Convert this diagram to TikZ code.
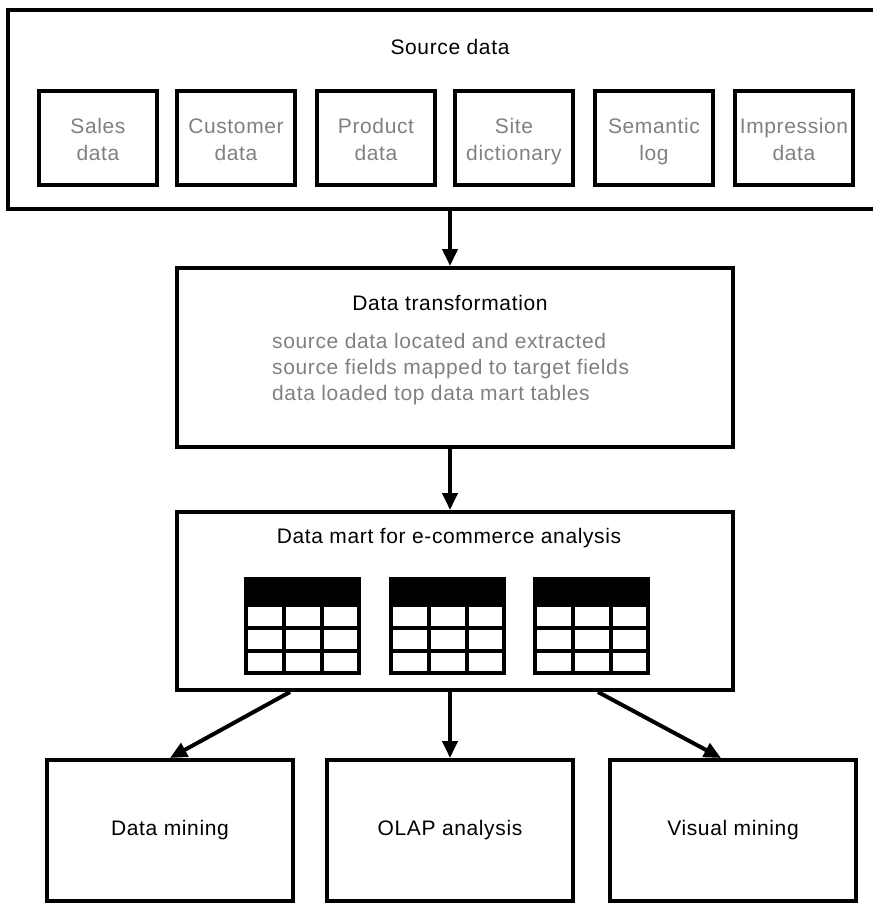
\documentclass[tikz,border=0pt]{standalone}
\usepackage{fontspec}
\setmainfont{Liberation Sans}[LetterSpace=3]
\usetikzlibrary{arrows.meta}
\definecolor{labelgray}{RGB}{128,128,128}
\tikzset{
  box/.style={draw, line width=4pt, rectangle, inner sep=0pt},
  heading/.style={font=\fontsize{21pt}{26pt}\selectfont, inner sep=0pt},
  srclabel/.style={font=\fontsize{21pt}{27pt}\selectfont, text=labelgray, align=center, inner sep=0pt},
  arr/.style={line width=4pt, -{Triangle[length=17pt,width=15pt]}},
  grid/.style={line width=4pt}
}
\begin{document}
\begin{tikzpicture}[x=1pt,y=-1pt]
\clip (0,0) rectangle (873,903);

% source data container
\node[box, minimum width=872pt, minimum height=199pt] (src) at (444,109.5) {};
\node[heading] (srct) at (450,47) {Source data};
\foreach \cx/\nm/\la/\lb in {98/s1/Sales/data, 236/s2/Customer/data, 376/s3/Product/data,
  514/s4/Site/dictionary, 654/s5/Semantic/log, 794/s6/Impression/data} {
  \node[box, minimum width=118pt, minimum height=94pt] (\nm) at (\cx,138) {};
  \node[srclabel] (\nm t) at ([yshift=-3.6pt]\nm.center) {\strut\la\\\strut\lb};
}

% transformation step
\node[box, minimum width=556pt, minimum height=179pt] (trans) at (455,357.5) {};
\node[heading] (transt) at (450,303) {Data transformation};
\node[anchor=west, inner sep=0pt, align=left, text=labelgray,
      font=\fontsize{21pt}{26pt}\selectfont] (transtxt) at (272,369)
  {source data located and extracted\\source fields mapped to target fields\\data loaded top data mart tables};

% data mart
\node[box, minimum width=556pt, minimum height=178pt] (dmart) at (455,601) {};
\node[heading] (dmartt) at (449,538) {Data mart for e-commerce analysis};
\foreach \x in {246,391,535} {
  \fill (\x,579) rectangle (\x+113,607);
  \draw[grid] (\x,579) rectangle (\x+113,673);
  \draw[grid] (\x+38,607) -- (\x+38,673);
  \draw[grid] (\x+76,607) -- (\x+76,673);
  \draw[grid] (\x,628) -- (\x+113,628);
  \draw[grid] (\x,651) -- (\x+113,651);
}

% analysis tools
\node[box, heading, minimum width=246pt, minimum height=141pt] (dm) at (170,830.5) {Data mining};
\node[box, heading, minimum width=246pt, minimum height=141pt] (olap) at (450,830.5) {OLAP analysis};
\node[box, heading, minimum width=246pt, minimum height=141pt] (vm) at (733,830.5) {Visual mining};

% connectors
\coordinate (mid) at (450,0);
\coordinate (lft) at (290,0);
\coordinate (rgt) at (598,0);
\coordinate (rtip) at (721,0);
\draw[arr] (src.south -| mid) -- (trans.north -| mid);
\draw[arr] (trans.south -| mid) -- (dmart.north -| mid);
\draw[arr] (dmart.south -| mid) -- (olap.north -| mid);
\draw[arr] (dmart.south -| lft) -- (dm.north);
\draw[arr] (dmart.south -| rgt) -- (vm.north -| rtip);
\end{tikzpicture}
\end{document}
